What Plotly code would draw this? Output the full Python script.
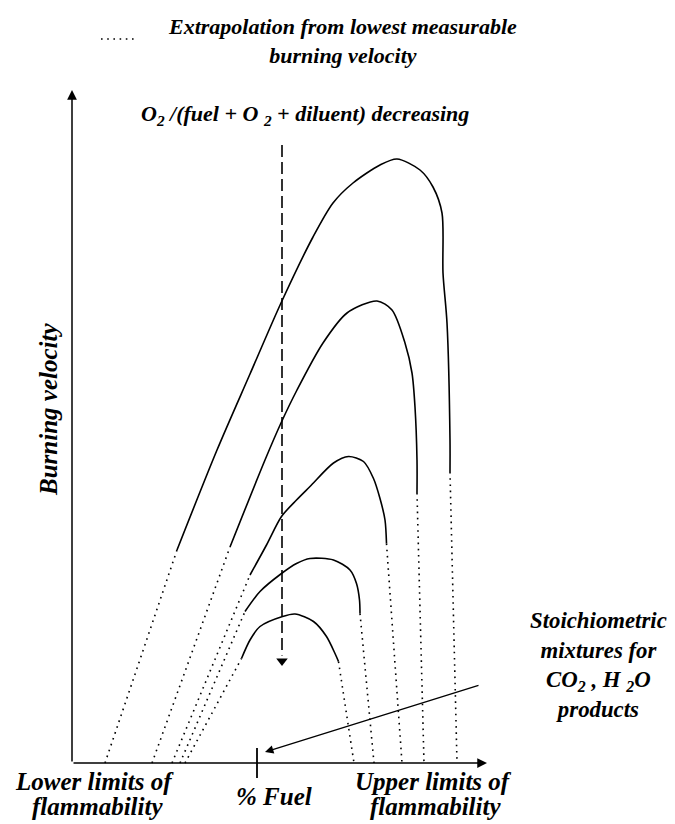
import plotly.graph_objects as go

# ---- data (arbitrary units: x = % fuel, y = burning velocity) ----
c1_x = [21.0, 29.0, 35.6, 41.8, 48.2, 52.2, 56.2, 61.6, 65.0, 69.6, 72.2, 74.0, 74.2, 75.0, 75.6, 75.6]
c1_y = [42.6, 62.6, 77.8, 92.0, 105.2, 112.0, 116.0, 119.6, 120.8, 118.6, 115.2, 110.0, 98.0, 88.0, 64.6, 58.2]

c2_x = [31.6, 38.6, 41.8, 45.0, 50.2, 55.0, 61.0, 64.0, 66.6, 68.0, 68.6, 69.0, 69.0]
c2_y = [43.2, 60.6, 68.0, 74.6, 84.0, 90.0, 92.4, 90.6, 84.0, 78.0, 71.2, 60.6, 54.0]

c3_x = [35.6, 38.9, 41.9, 44.9, 47.6, 52.3, 55.3, 58.3, 60.3, 61.6, 62.6, 62.9]
c3_y = [37.6, 43.6, 49.3, 52.6, 55.3, 60.0, 61.3, 60.3, 56.9, 52.9, 48.6, 43.9]

c4_x = [34.6, 37.6, 41.9, 44.9, 47.6, 52.3, 55.6, 56.9, 57.5, 57.6]
c4_y = [30.3, 34.3, 37.9, 39.9, 40.9, 40.6, 38.6, 35.9, 32.6, 29.9]

c5_x = [33.9, 35.6, 37.6, 42.1, 44.6, 48.3, 50.9, 52.6, 53.3]
c5_y = [20.9, 24.6, 27.3, 29.3, 29.8, 28.3, 25.3, 21.9, 20.3]

lower_limits = [6.6, 16.0, 20.0, 21.6, 22.6]
upper_limits = [77.0, 70.4, 66.0, 60.4, 56.4]

stoich_x = 37.0
x_axis_end = 83.0
y_axis_end = 134.6

curves = [(c1_x, c1_y), (c2_x, c2_y), (c3_x, c3_y), (c4_x, c4_y), (c5_x, c5_y)]

FONT = "Liberation Serif"
fig = go.Figure()

dot_style = "1.6px,4.6px"
for (cx, cy), lo, up in zip(curves, lower_limits, upper_limits):
    fig.add_trace(go.Scatter(x=cx, y=cy, mode="lines",
                             line=dict(color="black", width=1.6, shape="spline", smoothing=0.8),
                             hoverinfo="skip", showlegend=False))
    fig.add_trace(go.Scatter(x=[lo, cx[0]], y=[0, cy[0]], mode="lines",
                             line=dict(color="black", width=1.6, dash=dot_style),
                             hoverinfo="skip", showlegend=False))
    fig.add_trace(go.Scatter(x=[cx[-1], up], y=[cy[-1], 0], mode="lines",
                             line=dict(color="black", width=1.6, dash=dot_style),
                             hoverinfo="skip", showlegend=False))

# legend sample dots
fig.add_trace(go.Scatter(x=[5.8, 12.8], y=[144.8, 144.8], mode="lines",
                         line=dict(color="black", width=1.4, dash=dot_style),
                         hoverinfo="skip", showlegend=False))

# dashed arrow (O2 decreasing)
fig.add_trace(go.Scatter(x=[42.0, 42.0], y=[123.6, 21.5], mode="lines",
                         line=dict(color="black", width=1.6, dash="12px,5px"),
                         hoverinfo="skip", showlegend=False))
fig.add_trace(go.Scatter(x=[42.0], y=[20.4], mode="markers",
                         marker=dict(symbol="triangle-down", size=10, color="black"),
                         hoverinfo="skip", showlegend=False))

# % Fuel tick
fig.add_trace(go.Scatter(x=[stoich_x, stoich_x], y=[3.0, -3.0], mode="lines",
                         line=dict(color="black", width=1.8),
                         hoverinfo="skip", showlegend=False))

def arrow(x, y, ax, ay, w=1.5):
    fig.add_annotation(x=x, y=y, ax=ax, ay=ay, xref="x", yref="y", axref="x", ayref="y",
                       text="", showarrow=True, arrowhead=2, arrowsize=1.3,
                       arrowwidth=w, arrowcolor="black", standoff=0, startstandoff=0)

# axes
arrow(0, y_axis_end, 0, 0)
arrow(x_axis_end, 0, 0, 0)
# stoichiometric arrow
arrow(38.6, 2.2, 81.6, 15.6, w=1.3)

def label(x, y, text, size, angle=0):
    fig.add_annotation(x=x, y=y, xref="x", yref="y", text="<b><i>" + text + "</i></b>",
                       showarrow=False, font=dict(family=FONT, size=size, color="black"),
                       align="center", textangle=angle)

label(54.0, 144.4, "Extrapolation from lowest measurable<br>burning velocity", 22)
label(46.6, 129.6, "O<sub>2</sub> /(fuel + O <sub>2</sub> + diluent) decreasing", 22)
label(-4.8, 70.6, "Burning velocity", 25, angle=-90)
label(105.2, 19.7, "Stoichiometric<br>mixtures for<br>CO<sub>2</sub> , H <sub>2</sub>O<br>products", 22.8)
label(4.4, -3.6, "Lower limits of", 25)
label(5.0, -8.6, "flammability", 25)
label(40.4, -6.6, "% Fuel", 25)
label(72.3, -3.6, "Upper limits of", 25)
label(72.6, -8.6, "flammability", 25)

fig.update_layout(width=667, height=816, margin=dict(l=0, r=0, t=0, b=0),
                  paper_bgcolor="white", plot_bgcolor="white",
                  xaxis=dict(range=[-12.8, 120.6], visible=False, fixedrange=True),
                  yaxis=dict(range=[-12.2, 151.0], visible=False, fixedrange=True))

fig.write_html("out.html")
